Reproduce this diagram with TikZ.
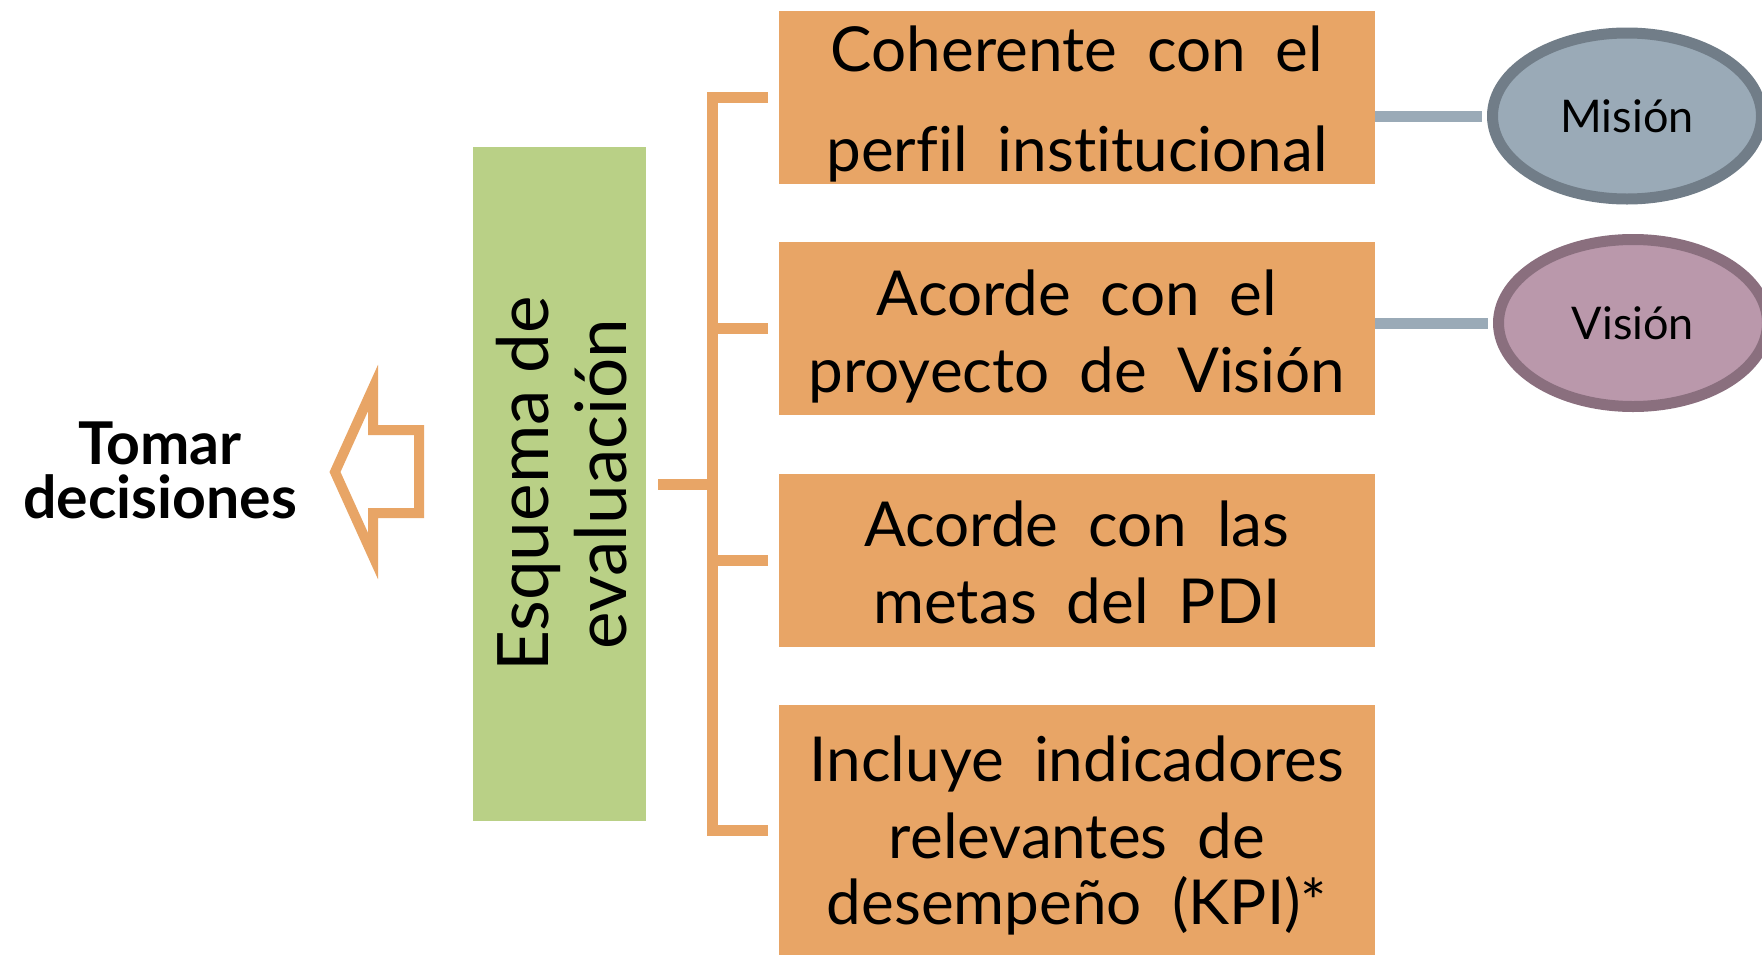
\documentclass[tikz,border=0pt]{standalone}
\usepackage{fontspec}
\setmainfont{Lato}
\newfontfamily\boxfont[Ligatures=NoCommon]{Lato}
\newfontfamily\greenfont{Lato}
\newcommand\boxspacing{\spaceskip 30bp\relax}
\newcommand\greenspacing{\spaceskip 17bp\relax}
\usetikzlibrary{shapes.geometric,calc}
\definecolor{orangebox}{RGB}{232,165,102}
\definecolor{greenbox}{RGB}{185,208,134}
\definecolor{misfill}{RGB}{154,170,183}
\definecolor{misdraw}{RGB}{113,125,136}
\definecolor{visfill}{RGB}{186,152,171}
\definecolor{visdraw}{RGB}{138,111,126}
\definecolor{linkcol}{RGB}{154,170,183}
\begin{document}
\begin{tikzpicture}[x=1bp,y=-1bp,
  obox/.style={rectangle, fill=orangebox, minimum width=596bp, inner sep=0pt},
  ltxt/.style={font=\boxfont\fontsize{62bp}{70bp}\selectfont\boxspacing, anchor=base, inner sep=0pt},
  brk/.style={draw=orangebox, line width=11bp, line join=miter},
  link/.style={draw=linkcol, line width=11bp},
  ell/.style={ellipse, line width=11bp, minimum width=269bp, minimum height=166bp, inner sep=0pt,
    font=\fontsize{45bp}{50bp}\selectfont, text height=32bp, text depth=0bp},
  arrowout/.style={draw=orangebox, line width=10bp, line join=miter}
]
\useasboundingbox (0,0) rectangle (1762,955);
\fill[white] (0,0) rectangle (1762,955);

% green box
\node[rectangle, fill=greenbox, minimum width=173bp, minimum height=674bp, inner sep=0pt] (green) at (559.5,484) {};
\node[rotate=90, align=center, inner sep=0pt, font=\greenfont\fontsize{71bp}{78bp}\selectfont\greenspacing] (gtxt) at (562,484) {Esquema de\\evaluación};

% orange boxes
\node[obox, minimum height=173bp] (b1) at (1077,97.5) {};
\node[obox, minimum height=173bp] (b2) at (1077,328.5) {};
\node[obox, minimum height=173bp] (b3) at (1077,560.5) {};
\node[obox, minimum height=250bp] (b4) at (1077,830) {};

\node[ltxt] (t11) at (b1.center |- 0,71) {Coherente con el};
\node[ltxt] (t12) at (b1.center |- 0,171) {perfil institucional};
\node[ltxt] (t21) at (b2.center |- 0,315) {Acorde con el};
\node[ltxt] (t22) at (b2.center |- 0,392) {proyecto de Visión};
\node[ltxt] (t31) at (b3.center |- 0,546) {Acorde con las};
\node[ltxt] (t32) at (b3.center |- 0,623) {metas del PDI};
\node[ltxt] (t41) at (b4.center |- 0,781) {Incluye indicadores};
\node[ltxt] (t42) at (b4.center |- 0,858) {relevantes de};
\node[ltxt] (t43) at (b4.center |- 0,924) {desempeño (KPI)*};

% bracket
\coordinate (stemL) at ($(green.east)+(12,0)$);
\coordinate (spine) at ($(b1.west)+(-66,0)$);
\draw[brk] (stemL) -- (spine |- stemL);
\draw[brk] ($(b1.west)+(-11,0)$) -| ($(b4.west)+(-66,0)$) -- ($(b4.west)+(-11,0)$);
\draw[brk] ($(b2.west)+(-11,0)$) -- ($(b2.west)+(-66,0)$);
\draw[brk] ($(b3.west)+(-11,0)$) -- ($(b3.west)+(-66,0)$);

% ellipses
\node[ell, fill=misfill, draw=misdraw] (mis) at (1627,116) {Misión};
\node[ell, fill=visfill, draw=visdraw, minimum height=167bp] (vis) at (1633,323) {Visión};
\draw[link, shorten >=5.5bp] (b1.east |- mis.west) -- (mis.west);
\draw[link, shorten >=5.5bp] (b2.east |- vis.west) -- (vis.west);

% decision text and arrow
\node[align=center, inner sep=0pt, font=\bfseries\fontsize{59bp}{54bp}\selectfont] (tomar) at (160,470) {Tomar\\decisiones};
\draw[arrowout] (335,472) -- (373,388) -- (373,430) -- (419,430) -- (419,513) -- (373,513) -- (373,556) -- cycle;
\end{tikzpicture}
\end{document}
